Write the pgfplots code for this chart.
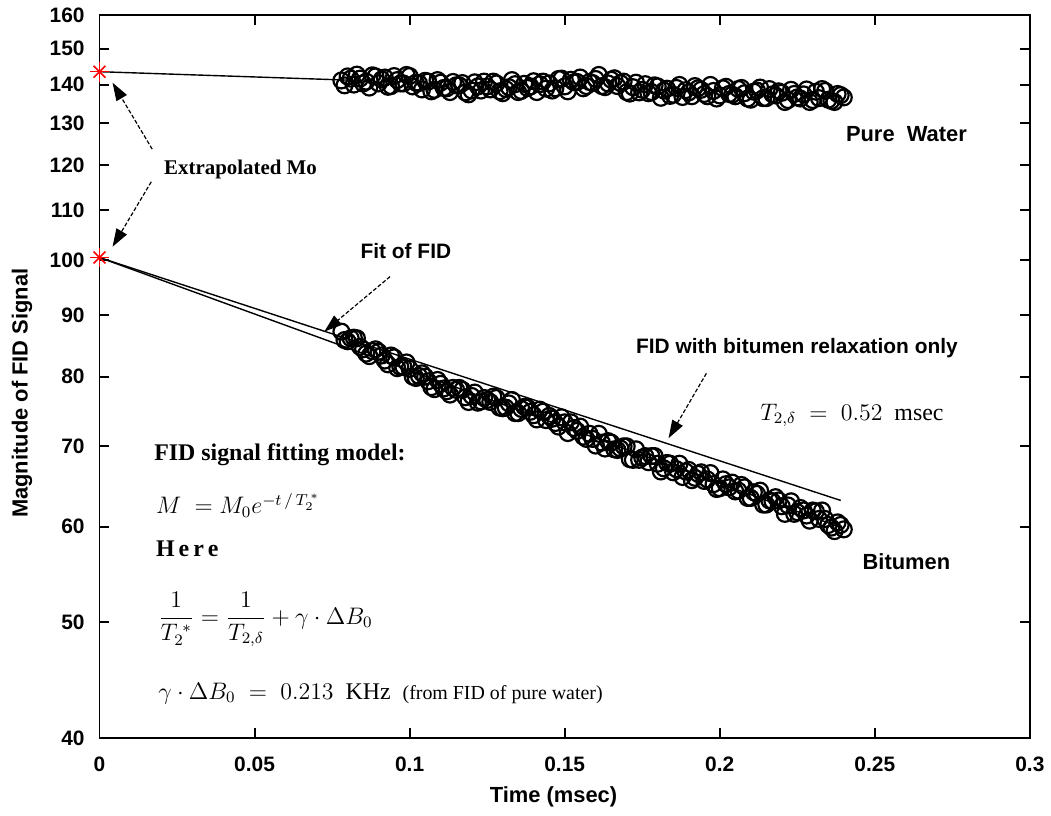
\documentclass[border=0pt]{standalone}
\usepackage{fontspec}
\setmainfont{Liberation Serif}
\setsansfont{Liberation Sans}
\usepackage{pgfplots}
\usepackage{pgfplotstable}
\pgfplotsset{compat=1.18}
\usetikzlibrary{arrows.meta}
\pgfplotstableread{
t v
0.078 141.1
0.079 139.8
0.080 142.2
0.081 141.6
0.082 140.0
0.083 142.7
0.084 141.6
0.085 140.3
0.086 140.8
0.087 139.2
0.088 142.5
0.089 142.2
0.090 140.3
0.091 141.4
0.092 141.9
0.093 139.4
0.094 139.6
0.095 142.3
0.096 141.2
0.097 140.3
0.098 140.3
0.099 142.6
0.100 142.3
0.101 139.5
0.102 140.5
0.103 140.4
0.104 138.7
0.105 141.0
0.106 140.8
0.107 138.2
0.108 138.6
0.109 141.2
0.110 140.5
0.111 139.1
0.112 139.0
0.113 138.0
0.114 140.7
0.115 139.8
0.116 139.8
0.117 140.4
0.118 137.9
0.119 137.4
0.120 138.4
0.121 140.6
0.122 139.5
0.123 138.4
0.124 140.8
0.125 139.5
0.126 138.7
0.127 140.8
0.128 140.3
0.129 138.2
0.130 137.7
0.131 138.8
0.132 139.3
0.133 141.2
0.134 140.1
0.135 138.0
0.136 138.3
0.137 140.2
0.138 139.1
0.139 139.5
0.140 140.9
0.141 138.0
0.142 140.1
0.143 140.8
0.144 138.9
0.145 140.3
0.146 138.4
0.147 139.0
0.148 141.5
0.149 141.6
0.150 139.5
0.151 138.2
0.152 141.3
0.153 140.6
0.154 140.7
0.155 141.9
0.156 139.0
0.157 139.6
0.158 140.7
0.159 140.4
0.160 141.5
0.161 142.6
0.162 139.6
0.163 139.3
0.164 140.3
0.165 141.3
0.166 141.7
0.167 139.6
0.168 140.4
0.169 140.8
0.170 138.0
0.171 137.6
0.172 139.3
0.173 140.5
0.174 137.9
0.175 138.6
0.176 140.1
0.177 137.7
0.178 138.0
0.179 139.8
0.180 139.5
0.181 136.5
0.182 138.4
0.183 138.9
0.184 137.0
0.185 137.3
0.186 139.1
0.187 139.9
0.188 136.7
0.189 138.5
0.190 137.9
0.191 136.9
0.192 139.6
0.193 139.0
0.194 138.6
0.195 137.5
0.196 136.9
0.197 139.9
0.198 138.3
0.199 136.3
0.200 137.1
0.201 139.0
0.202 139.4
0.203 137.5
0.204 137.3
0.205 136.9
0.206 138.8
0.207 139.1
0.208 137.7
0.209 136.3
0.210 136.0
0.211 138.1
0.212 138.4
0.213 139.2
0.214 136.4
0.215 136.4
0.216 138.8
0.217 137.4
0.218 137.1
0.219 138.2
0.220 137.8
0.221 135.4
0.222 135.9
0.223 138.6
0.224 137.5
0.225 136.6
0.226 136.3
0.227 137.4
0.228 138.7
0.229 135.4
0.230 135.9
0.231 138.1
0.232 136.4
0.233 138.8
0.234 138.3
0.235 136.0
0.236 135.7
0.237 135.4
0.238 137.5
0.239 137.2
0.240 136.6
}\water
\pgfplotstableread{
t v
0.078 87.2
0.079 85.8
0.080 85.6
0.081 86.1
0.082 86.2
0.083 86.1
0.084 84.7
0.085 84.3
0.086 83.6
0.087 83.2
0.088 84.0
0.089 84.3
0.090 83.9
0.091 83.3
0.092 82.5
0.093 81.9
0.094 83.3
0.095 83.0
0.096 81.3
0.097 81.5
0.098 81.5
0.099 82.2
0.100 81.2
0.101 80.0
0.102 79.8
0.103 80.1
0.104 80.5
0.105 80.0
0.106 79.3
0.107 78.4
0.108 78.1
0.109 79.5
0.110 78.9
0.111 78.2
0.112 77.8
0.113 77.3
0.114 78.3
0.115 78.0
0.116 78.3
0.117 78.0
0.118 76.9
0.119 76.2
0.120 77.1
0.121 77.6
0.122 76.1
0.123 76.3
0.124 76.8
0.125 76.5
0.126 76.2
0.127 77.0
0.128 76.8
0.129 75.4
0.130 75.3
0.131 75.4
0.132 76.0
0.133 76.5
0.134 74.6
0.135 74.6
0.136 75.2
0.137 75.5
0.138 75.4
0.139 74.8
0.140 74.3
0.141 73.7
0.142 75.1
0.143 74.8
0.144 73.6
0.145 74.2
0.146 73.8
0.147 73.2
0.148 72.7
0.149 74.0
0.150 73.3
0.151 71.8
0.152 73.3
0.153 72.5
0.154 72.1
0.155 72.7
0.156 71.3
0.157 71.0
0.158 71.7
0.159 71.0
0.160 70.1
0.161 71.7
0.162 70.5
0.163 69.7
0.164 70.7
0.165 70.5
0.166 69.6
0.167 69.5
0.168 69.7
0.169 70.0
0.170 70.0
0.171 68.3
0.172 68.2
0.173 69.6
0.174 68.2
0.175 68.5
0.176 68.7
0.177 67.9
0.178 68.7
0.179 68.7
0.180 67.7
0.181 66.7
0.182 67.1
0.183 67.8
0.184 67.7
0.185 66.6
0.186 67.0
0.187 67.7
0.188 66.0
0.189 66.7
0.190 66.9
0.191 65.6
0.192 65.9
0.193 66.4
0.194 66.6
0.195 65.5
0.196 65.7
0.197 66.5
0.198 65.1
0.199 64.5
0.200 64.6
0.201 65.7
0.202 65.1
0.203 64.7
0.204 65.3
0.205 64.2
0.206 64.3
0.207 65.0
0.208 64.7
0.209 63.4
0.210 63.4
0.211 64.1
0.212 63.9
0.213 64.3
0.214 62.6
0.215 62.6
0.216 63.1
0.217 63.0
0.218 63.5
0.219 63.1
0.220 62.4
0.221 61.5
0.222 62.5
0.223 63.0
0.224 61.5
0.225 61.7
0.226 62.2
0.227 61.9
0.228 61.3
0.229 60.7
0.230 61.9
0.231 61.8
0.232 60.9
0.233 61.9
0.234 60.9
0.235 60.2
0.236 59.9
0.237 59.5
0.238 60.5
0.239 60.2
0.240 59.7
}\bitumen
\begin{document}
\begin{tikzpicture}
\begin{axis}[
  scale only axis, width=467.5pt, height=363.5pt,
  xmin=0, xmax=0.3, ymin=40, ymax=160, ymode=log,
  xtick={0,0.05,0.1,0.15,0.2,0.25,0.3},
  xticklabels={0,0.05,0.1,0.15,0.2,0.25,0.3},
  ytick={40,50,60,70,80,90,100,110,120,130,140,150,160},
  yticklabels={40,50,60,70,80,90,100,110,120,130,140,150,160},
  minor ytick={}, minor xtick={},
  tick align=inside, major tick length=5pt,
  axis line style={line width=1pt},
  every tick/.style={line width=1pt, black},
  /pgf/number format/assume math mode=true,
  ticklabel style={font=\sffamily\bfseries\fontsize{10.5}{12}\selectfont},
  yticklabel style={xshift=-4pt},
  xticklabel style={yshift=-6pt},
  xlabel={Time (msec)}, ylabel={Magnitude of FID Signal},
  label style={font=\sffamily\bfseries\fontsize{11}{13}\selectfont},
  xlabel style={at={(axis description cs:0.488,-0.081)}, anchor=center},
  ylabel style={at={(axis description cs:-0.0834,0.477)}, anchor=center},
  clip=false,
]
% data
\addplot[only marks, mark=o, mark size=4pt, mark options={line width=1.1pt}, black] table[x=t,y=v] {\water};
\addplot[only marks, mark=o, mark size=4pt, mark options={line width=1.1pt}, black] table[x=t,y=v] {\bitumen};
% fits
\addplot[black, line width=0.7pt] coordinates {(0,143.5) (0.080,141.2)};
\addplot[black, line width=0.7pt] coordinates {(0,100.5) (0.240,59.8)};
\addplot[black, line width=0.7pt] coordinates {(0,100.5) (0.239,63.1)};
% extrapolated points
\addplot[only marks, mark=+, mark size=5pt, red, mark options={line width=0.8pt}] coordinates {(0,143.5) (0,100.5)};
\addplot[only marks, mark=x, mark size=4.2pt, red, mark options={line width=0.8pt}] coordinates {(0,143.5) (0,100.5)};
% arrows
\draw[black, line width=0.6pt, dash pattern=on 2pt off 1pt, -{Triangle[length=9pt,width=6pt]}] (axis cs:0.017,123.7) -- (axis cs:0.0042,140.5);
\draw[black, line width=0.6pt, dash pattern=on 2pt off 1pt, -{Triangle[length=9pt,width=6pt]}] (axis cs:0.0167,116.2) -- (axis cs:0.0042,102.6);
\draw[black, line width=0.6pt, dash pattern=on 2pt off 1pt, -{Triangle[length=9pt,width=6pt]}] (axis cs:0.0937,96.9) -- (axis cs:0.0725,87.2);
\draw[black, line width=0.6pt, dash pattern=on 2pt off 1pt, -{Triangle[length=9pt,width=6pt]}] (axis cs:0.1957,80.5) -- (axis cs:0.1835,71.1);
% texts
\node[anchor=west, font=\bfseries\fontsize{10.5}{12}\selectfont] at (axis cs:0.0186,119) {Extrapolated Mo};
\node[font=\sffamily\bfseries\fontsize{10.5}{12}\selectfont] at (axis cs:0.0988,101.8) {Fit of FID};
\node[font=\sffamily\bfseries\fontsize{10.5}{12}\selectfont] at (axis cs:0.2249,84.5) {FID with bitumen relaxation only};
\node[anchor=west, font=\fontsize{12}{14}\selectfont] at (axis cs:0.2108,74.3) {$T_{2,\delta}\;=\;0.52$\ \ msec};
\node[font=\sffamily\bfseries\fontsize{11}{13}\selectfont] at (axis cs:0.2602,127.3) {Pure\ \ Water};
\node[font=\sffamily\bfseries\fontsize{11}{13}\selectfont] at (axis cs:0.2602,56.1) {Bitumen};
\node[anchor=west, font=\bfseries\fontsize{12}{14}\selectfont] at (axis cs:0.0154,68.9) {FID signal fitting model:};
\node[anchor=west, font=\fontsize{12}{14}\selectfont] at (axis cs:0.016,62.5) {$M\;=M_0e^{-t\,/\,T_2^{\,*}}$};
\node[anchor=west, font=\bfseries\fontsize{12}{14}\selectfont] at (axis cs:0.016,57.5) {H\,e\,r\,e};
\node[anchor=west, font=\fontsize{12}{14}\selectfont] at (axis cs:0.0167,50.2) {$\displaystyle\frac{1}{T_2^{\;*}}=\frac{1}{T_{2,\delta}}+\gamma\cdot\Delta B_0$};
\node[anchor=west, font=\fontsize{12}{14}\selectfont] at (axis cs:0.0167,43.6) {$\gamma\cdot\Delta B_0\;=\;0.213$\ \ KHz\ \ {\fontsize{10}{12}\selectfont(from FID of pure water)}};
\end{axis}
\path (current axis.south west) ++(-50pt,-39pt) coordinate (bbsw);
\path (current axis.north east) ++(8pt,7.5pt) coordinate (bbne);
\path (bbsw) rectangle (bbne);
\end{tikzpicture}
\end{document}
